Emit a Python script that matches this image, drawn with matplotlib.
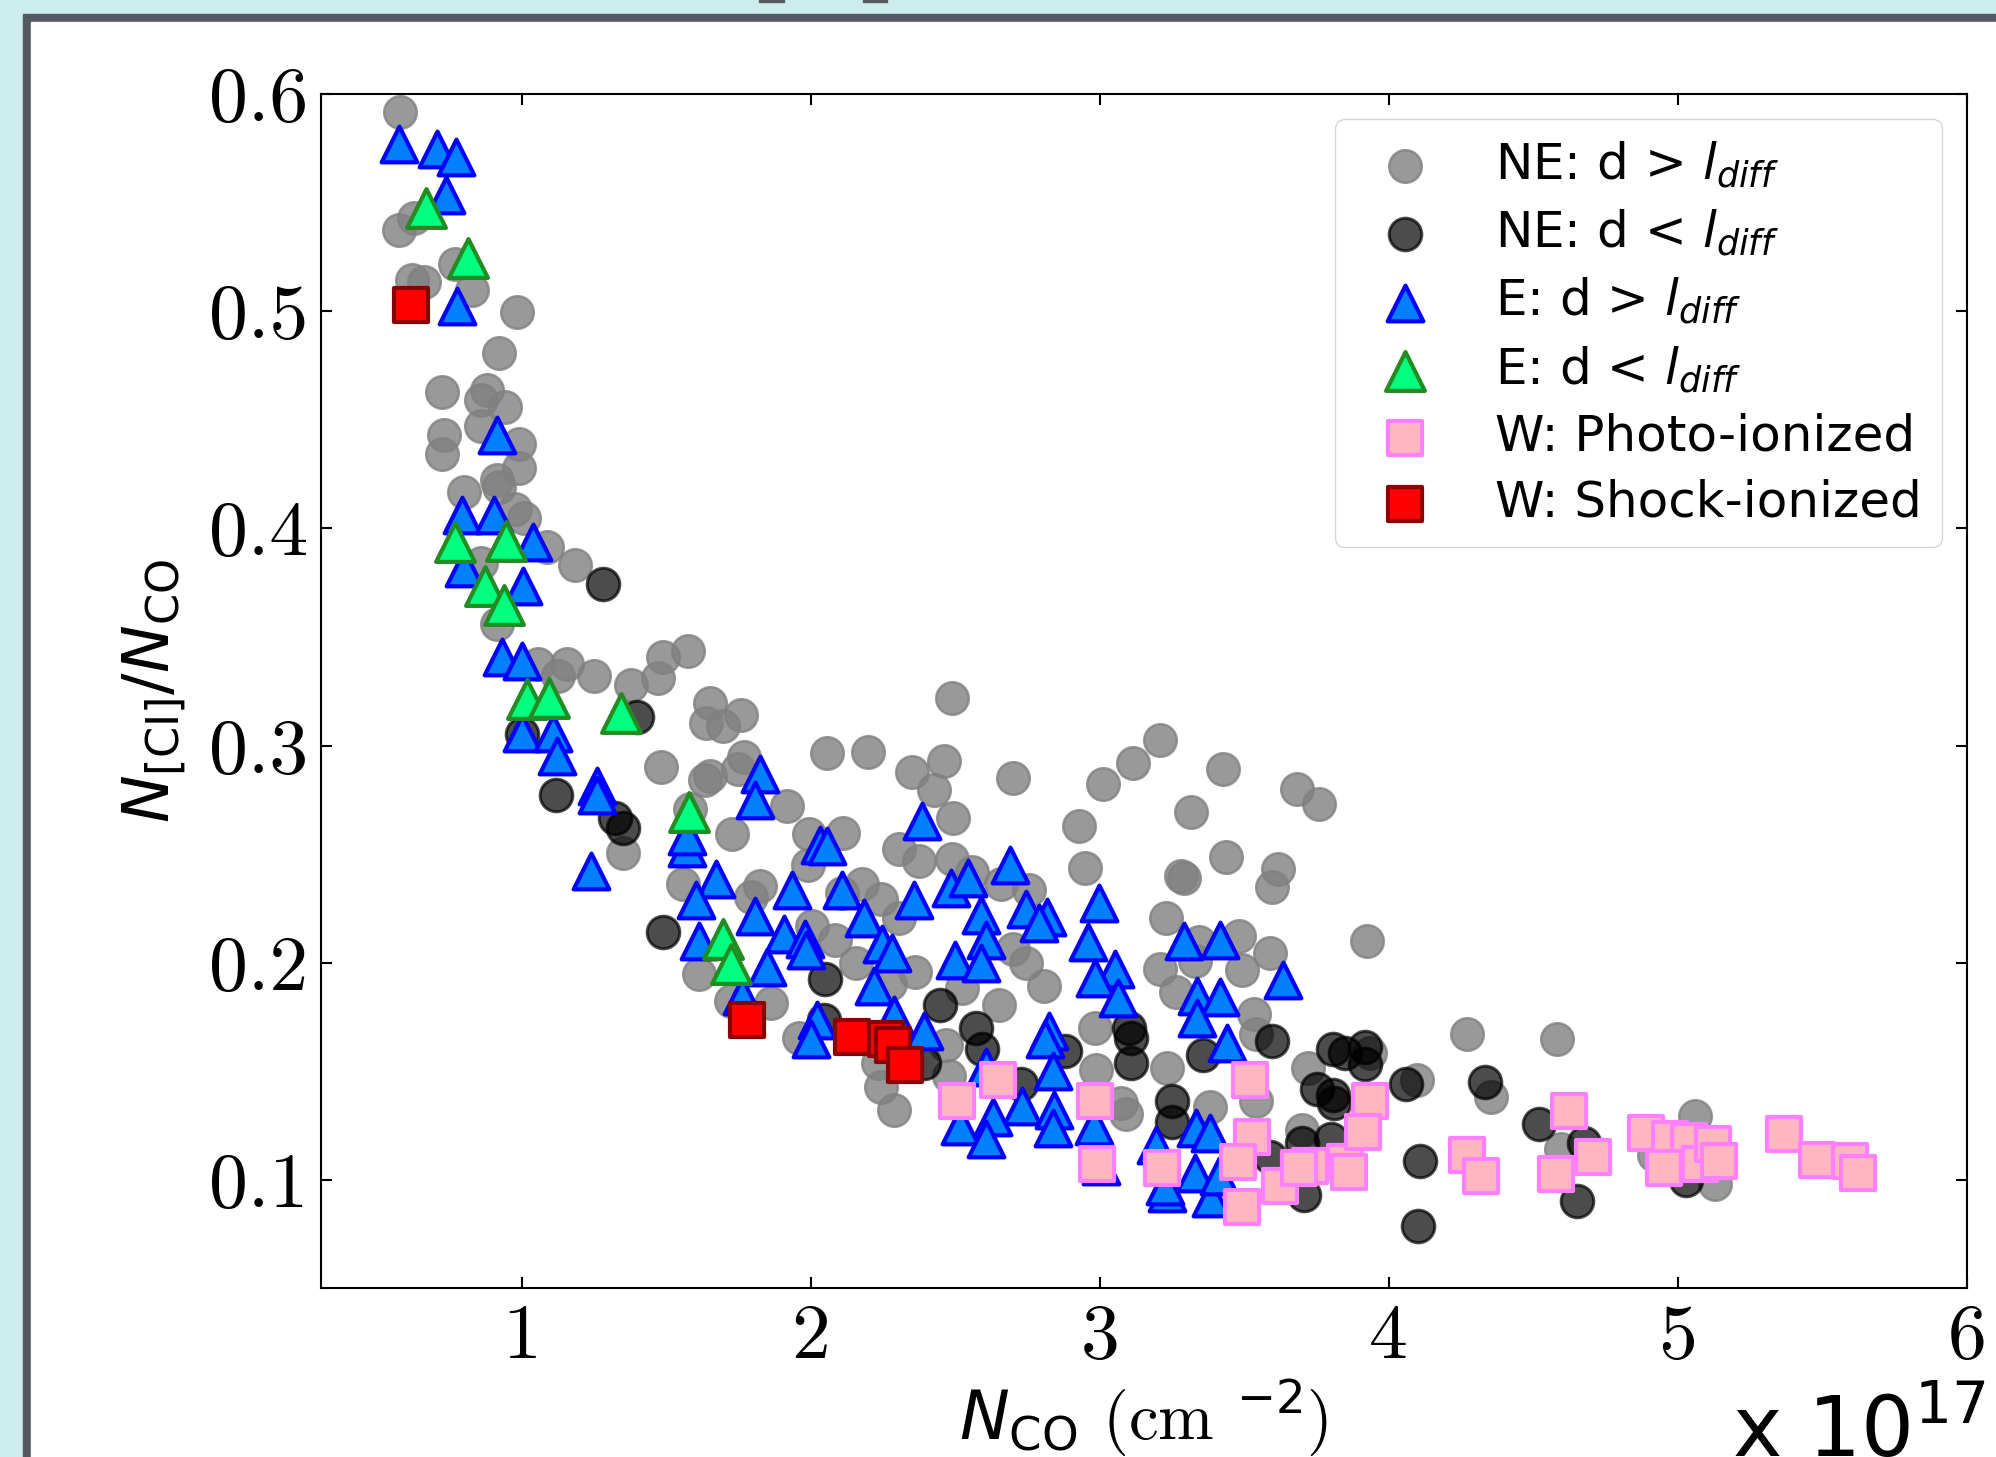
import matplotlib
matplotlib.use('Agg')
import matplotlib.pyplot as plt
from matplotlib.patches import Rectangle

# NE: d > l_diff (light grey circles)
ne_far_x = [0.578, 0.574, 0.628, 0.771, 0.619, 0.663, 0.829, 0.984, 0.920, 0.724,
            0.879, 0.860, 0.941, 0.731, 0.724, 0.858, 0.990, 0.990, 0.916, 0.920,
            0.800, 0.978, 1.009, 1.089, 0.860, 1.184, 0.916, 1.058, 1.157, 1.126,
            1.250, 1.380, 1.472, 1.490, 1.577,
            1.651, 1.759, 1.639, 1.698, 2.057, 2.200, 1.481, 1.769, 1.750, 1.651,
            1.633, 1.917, 1.583, 1.728, 1.995, 2.111, 1.991, 1.352, 1.559, 1.824,
            1.794, 2.109, 2.177, 2.004, 2.084, 2.158, 1.614, 1.726, 1.864, 1.960,
            2.232,
            2.489, 2.460, 2.349, 2.427, 2.701, 2.494, 2.306, 2.374, 2.489, 2.559,
            2.658, 2.756, 3.210, 3.115, 3.012, 2.930, 2.948, 3.427, 3.316, 3.683,
            3.757, 3.436, 3.281, 3.293, 3.617, 3.596, 3.230, 3.923, 3.481, 3.343,
            3.207, 3.491, 3.590, 3.263, 3.331, 2.244, 2.306, 2.360, 2.275, 2.523,
            2.652, 2.806, 2.744, 2.701, 2.467, 2.985, 3.535, 3.541, 3.232, 2.988,
            2.244, 2.288, 3.072, 3.090, 3.380, 3.540, 3.701, 3.720, 4.096, 3.935,
            2.479,
            4.271, 4.582, 4.352, 4.597, 5.060, 4.916, 5.130]
ne_far_y = [0.592, 0.5375, 0.543, 0.522, 0.5145, 0.5136, 0.510, 0.4995, 0.481, 0.463,
            0.464, 0.459, 0.456, 0.443, 0.4345, 0.447, 0.439, 0.428, 0.4225, 0.419,
            0.4166, 0.409, 0.405, 0.3915, 0.384, 0.383, 0.356, 0.3375, 0.3375, 0.332,
            0.332, 0.328, 0.3313, 0.341, 0.3437,
            0.3195, 0.3142, 0.3106, 0.3088, 0.2965, 0.2968, 0.2903, 0.2947, 0.2894, 0.2858,
            0.284, 0.272, 0.2708, 0.2593, 0.2593, 0.2596, 0.2451, 0.2504, 0.2363, 0.2354,
            0.2301, 0.2319, 0.2363, 0.2168, 0.2106, 0.200, 0.1947, 0.1823, 0.1814, 0.1655,
            0.154,
            0.3221, 0.2929, 0.2876, 0.2796, 0.285, 0.2664, 0.2522, 0.2469, 0.2478, 0.2416,
            0.2363, 0.2336, 0.3027, 0.292, 0.2823, 0.2628, 0.2434, 0.289, 0.2694, 0.2802,
            0.2731, 0.2487, 0.2398, 0.239, 0.243, 0.2349, 0.2204, 0.2101, 0.2124, 0.2097,
            0.1973, 0.1965, 0.2044, 0.1867, 0.2009, 0.2292, 0.2204, 0.1956, 0.1903, 0.1885,
            0.1805, 0.1894, 0.200, 0.2062, 0.162, 0.170, 0.1765, 0.1673, 0.1513, 0.1504,
            0.1425, 0.1319, 0.1354, 0.1301, 0.1336, 0.1363, 0.123, 0.1513, 0.146, 0.1584,
            0.1478,
            0.1673, 0.1646, 0.138, 0.1142, 0.1292, 0.1115, 0.0982]

# NE: d < l_diff (dark circles)
ne_near_x = [1.281, 1.002, 1.398, 1.120, 1.324, 1.352, 1.488, 2.050, 2.047,
             2.448, 2.572, 2.591, 2.393, 2.880, 3.102, 3.109, 3.109, 2.726, 3.250,
             3.250, 3.356, 3.596, 3.806, 3.849, 3.917, 3.917, 3.751, 3.806, 3.812,
             4.059, 3.701, 3.800, 3.590, 3.707, 4.109, 4.102,
             4.334, 4.520, 4.676, 4.652, 5.030]
ne_near_y = [0.3743, 0.3053, 0.3133, 0.277, 0.2664, 0.262, 0.2142, 0.1924, 0.1735,
             0.1805, 0.170, 0.1602, 0.154, 0.1593, 0.170, 0.1655, 0.154, 0.1442, 0.1363,
             0.1265, 0.1575, 0.1637, 0.1602, 0.1584, 0.1611, 0.1531, 0.1416, 0.1389, 0.1354,
             0.1442, 0.1168, 0.1186, 0.1106, 0.0929, 0.1088, 0.0788,
             0.1451, 0.1257, 0.1168, 0.0903, 0.100]

# E: d > l_diff (blue triangles)
e_far_x = [0.574, 0.706, 0.774, 0.739, 0.777, 0.916, 0.795, 0.904, 0.800, 1.040,
           1.005, 0.932, 1.000,
           1.000, 1.107, 1.122, 1.260, 1.262, 1.240, 1.824, 1.808, 1.571, 1.571,
           1.674, 1.602, 1.614, 1.806, 1.936, 2.032, 2.057, 2.110, 1.909, 1.981,
           1.985, 2.183, 1.849, 1.763, 2.022, 2.000,
           2.384, 2.689, 2.485, 2.543, 2.358, 2.590, 2.746, 2.819, 2.790, 2.998,
           2.960, 2.247, 2.281, 2.606, 2.498, 2.588, 3.053, 2.985, 3.063, 3.291,
           3.417, 3.633, 3.335, 3.415, 3.338, 3.442, 2.220, 2.288, 2.393, 2.825,
           2.812, 2.606, 2.837, 2.730, 2.841, 2.630, 2.515, 2.605, 2.840, 2.979,
           3.004, 3.195, 3.333, 3.380, 3.328, 3.232, 3.226, 3.386, 3.411]
e_far_y = [0.577, 0.5749, 0.5713, 0.5535, 0.5023, 0.443, 0.406, 0.4064, 0.3818, 0.3936,
           0.3735, 0.3407, 0.339,
           0.306, 0.306, 0.295, 0.2814, 0.2772, 0.242, 0.287, 0.2747, 0.253, 0.2584,
           0.2384, 0.229, 0.210, 0.2216, 0.2333, 0.2542, 0.2536, 0.2333, 0.213, 0.2111,
           0.206, 0.2204, 0.1979, 0.1846, 0.1735, 0.165,
           0.2651, 0.245, 0.2342, 0.2389, 0.2288, 0.2221, 0.2246, 0.2212, 0.2184, 0.2273,
           0.2095, 0.2085, 0.2044, 0.2103, 0.2011, 0.1998, 0.1972, 0.1927, 0.1837, 0.2099,
           0.2106, 0.1922, 0.1846, 0.1844, 0.1745, 0.1632, 0.1894, 0.1761, 0.1687, 0.1687,
           0.1646, 0.1519, 0.1501, 0.1338, 0.1319, 0.1288, 0.1246, 0.1188, 0.1239, 0.1248,
           0.1062, 0.116, 0.1239, 0.1216, 0.1032, 0.0938, 0.0973, 0.0917, 0.1018]

# E: d < l_diff (green triangles)
e_near_x = [0.669, 0.815, 0.770, 0.946, 0.874, 0.938, 1.020, 1.093, 1.345, 1.578, 1.698, 1.726]
e_near_y = [0.5476, 0.5248, 0.3938, 0.394, 0.3735, 0.3646, 0.3216, 0.322, 0.315, 0.2696, 0.211, 0.1995]

# W: photo-ionized (pink squares)
w_photo_x = [2.649, 2.507, 2.985, 3.520, 3.528, 2.989, 3.217, 3.479, 3.491, 3.625,
             3.726, 3.689, 3.849, 3.861, 3.936, 3.911,
             4.270, 4.319, 4.622, 4.708, 4.580, 4.890, 4.974, 5.040, 4.952, 5.078,
             5.120, 5.144, 5.366, 5.480, 5.594, 5.622]
w_photo_y = [0.146, 0.1363, 0.1363, 0.146, 0.1195, 0.1071, 0.1053, 0.108, 0.0876, 0.0973,
             0.1062, 0.1053, 0.108, 0.1035, 0.1363, 0.1221,
             0.1115, 0.1018, 0.1315, 0.1103, 0.1027, 0.1216, 0.1186, 0.118, 0.1053, 0.1071,
             0.1163, 0.1088, 0.1209, 0.1092, 0.1088, 0.1032]

# W: shock-ionized (red squares)
w_shock_x = [0.616, 1.781, 2.143, 2.260, 2.285, 2.325]
w_shock_y = [0.503, 0.1735, 0.1658, 0.165, 0.162, 0.153]

x_ticks = [1, 2, 3, 4, 5, 6]
x_tick_labels = ['1', '2', '3', '4', '5', '6']
y_ticks = [0.1, 0.2, 0.3, 0.4, 0.5, 0.6]
y_tick_labels = ['0.1', '0.2', '0.3', '0.4', '0.5', '0.6']

plt.rcParams['font.family'] = 'cmr10'
plt.rcParams['mathtext.fontset'] = 'dejavusans'
plt.rcParams['axes.formatter.use_mathtext'] = True

W, H = 1996, 1457
fig = plt.figure(figsize=(W / 100, H / 100), dpi=100, facecolor='#cdeded')

# рамка вокруг картинки
fig.patches.append(Rectangle((23 / W, 0), 1, 1 - 14 / H, transform=fig.transFigure,
                             color='#54585f', zorder=-10))
fig.patches.append(Rectangle((31 / W, 0), 1, 1 - 22 / H, transform=fig.transFigure,
                             color='white', zorder=-9))
fig.patches.append(Rectangle((759 / W, 1 - 2 / H), 25 / W, 2 / H, transform=fig.transFigure,
                             color='#54585f', zorder=-8))
fig.patches.append(Rectangle((863 / W, 1 - 2 / H), 24 / W, 2 / H, transform=fig.transFigure,
                             color='#54585f', zorder=-8))

ax = fig.add_axes([0.1607, 0.1158, 0.9854 - 0.1607, 0.9353 - 0.1158])

ax.scatter(ne_far_x, ne_far_y, s=550, c='gray', alpha=0.8, linewidths=1.8,
           label=r'NE: d > $l_{diff}$', zorder=2)
ax.scatter(ne_near_x, ne_near_y, s=550, c='black', alpha=0.7, edgecolors='black',
           linewidths=2.2, label=r'NE: d < $l_{diff}$', zorder=3)
ax.scatter(e_far_x, e_far_y, s=660, marker='^', c='#0080ff', edgecolors='#0000ff',
           linewidths=3, label=r'E: d > $l_{diff}$', zorder=4)
ax.scatter(e_near_x, e_near_y, s=780, marker='^', c='#00ff7f', edgecolors='#228b22',
           linewidths=3, label=r'E: d < $l_{diff}$', zorder=5)
ax.scatter(w_photo_x, w_photo_y, s=590, marker='s', c='#ffb6c1', edgecolors='#ff80ff',
           linewidths=3, label='W: Photo-ionized', zorder=6)
ax.scatter(w_shock_x, w_shock_y, s=590, marker='s', c='red', edgecolors='#8b0000',
           linewidths=3, label='W: Shock-ionized', zorder=7)

ax.set_xlim(0.305, 6.0)
ax.set_ylim(0.05, 0.6)
ax.set_xticks(x_ticks)
ax.set_xticklabels(x_tick_labels)
ax.set_yticks(y_ticks)
ax.set_yticklabels(y_tick_labels)
ax.tick_params(direction='in', top=True, right=True, length=8, width=1.5, labelsize=56)
ax.tick_params(axis='x', pad=11)
ax.tick_params(axis='y', pad=9)
for sp in ax.spines.values():
    sp.set_linewidth(1.5)

ax.set_xlabel(r'$N_{\rm CO}$ (cm $^{-2}$)', fontsize=48, labelpad=3)
ax.set_ylabel(r'$N_{\rm [CI]}/N_{\rm CO}$', fontsize=46, labelpad=14)

ax.legend(loc='upper right', prop={'family': 'DejaVu Sans', 'size': 36},
          labelspacing=0.36, borderaxespad=0.5, edgecolor='#cccccc', framealpha=0.8)

fig.text(1732 / W, 0.0, r'x 10$^{17}$', family='DejaVu Sans', fontsize=60, va='baseline')

fig.savefig('out.png', dpi=100, facecolor=fig.get_facecolor())
